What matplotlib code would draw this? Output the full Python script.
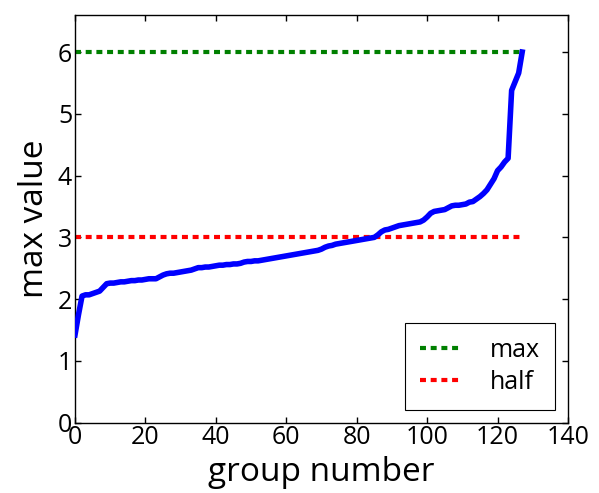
import matplotlib
matplotlib.use("Agg")
import matplotlib.pyplot as plt
import numpy as np

plt.rcParams['font.family'] = ['Open Sans', 'DejaVu Sans']
plt.rcParams['lines.scale_dashes'] = False

# sorted per-group maximum values
group_max = [
    1.42, 1.75, 2.05, 2.07, 2.07, 2.09, 2.11, 2.13, 2.19, 2.25,
    2.26, 2.26, 2.27, 2.28, 2.28, 2.29, 2.30, 2.30, 2.31, 2.31,
    2.32, 2.33, 2.33, 2.33, 2.36, 2.39, 2.41, 2.42, 2.42, 2.43,
    2.44, 2.45, 2.46, 2.47, 2.49, 2.51, 2.51, 2.52, 2.52, 2.53,
    2.54, 2.55, 2.55, 2.56, 2.56, 2.57, 2.57, 2.58, 2.60, 2.61,
    2.61, 2.62, 2.62, 2.63, 2.64, 2.65, 2.66, 2.67, 2.68, 2.69,
    2.70, 2.71, 2.72, 2.73, 2.74, 2.75, 2.76, 2.77, 2.78, 2.79,
    2.81, 2.84, 2.86, 2.87, 2.89, 2.90, 2.91, 2.92, 2.93, 2.94,
    2.95, 2.96, 2.97, 2.98, 2.99, 3.00, 3.04, 3.09, 3.12, 3.13,
    3.15, 3.17, 3.19, 3.20, 3.21, 3.22, 3.23, 3.24, 3.25, 3.28,
    3.33, 3.39, 3.42, 3.43, 3.44, 3.45, 3.48, 3.51, 3.52, 3.52,
    3.53, 3.54, 3.57, 3.58, 3.62, 3.66, 3.71, 3.77, 3.86, 3.95,
    4.08, 4.14, 4.22, 4.28, 5.38, 5.52, 5.66, 6.00,
]
max_level = 6.0
half_level = 3.0
x_ticks = [0, 20, 40, 60, 80, 100, 120, 140]
y_ticks = [0, 1, 2, 3, 4, 5, 6]

groups = np.arange(len(group_max))
last = groups[-1]

fig = plt.figure(figsize=(5.99, 4.93), dpi=100, facecolor='white')
ax = fig.add_axes([0.1252, 0.1426, 0.823, 0.827])

ax.plot(groups, group_max, color=(0, 0, 1), lw=4, zorder=3)
ax.plot([0, last], [max_level, max_level], color=(0, 0.5, 0), lw=3,
        dashes=(4.3, 3.4), label='max')
ax.plot([0, last], [half_level, half_level], color=(1, 0, 0), lw=3,
        dashes=(4.3, 3.4), label='half')

ax.set_xlim(0, 140)
ax.set_ylim(0, 6.6)
ax.set_xticks(x_ticks)
ax.set_yticks(y_ticks)
ax.tick_params(direction='in', length=4, width=1, top=True, right=True,
               labelsize=18, pad=2)
for s in ax.spines.values():
    s.set_linewidth(1.0)

ax.set_xlabel('group number', fontsize=24, labelpad=4)
ax.set_ylabel('max value', fontsize=24, labelpad=5)

leg = ax.legend(loc='lower right', fontsize=18, fancybox=False,
                handlelength=1.6, handletextpad=1.2, borderpad=0.6,
                labelspacing=0.3, framealpha=1, borderaxespad=0.5)
leg.get_frame().set_edgecolor('black')
leg.get_frame().set_linewidth(0.8)

fig.savefig('out.png', dpi=100, facecolor='white')
